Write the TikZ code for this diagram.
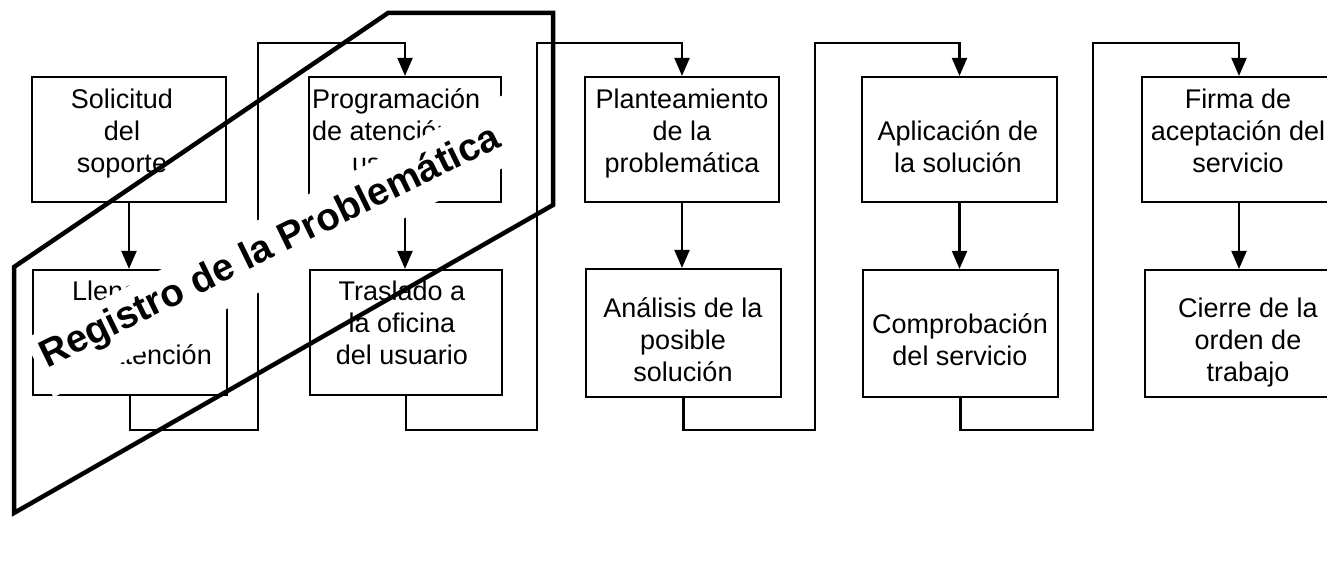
\documentclass[tikz,border=0pt]{standalone}
\usepackage{fontspec}
\setmainfont{Liberation Sans}
\usetikzlibrary{arrows.meta}
\newcommand{\st}{\rule[-6pt]{0pt}{32pt}}
\tikzset{
  stepbox/.style={draw, line width=2.2pt, minimum height=125pt, inner sep=0pt},
  txt/.style={font=\fontsize{27}{32}\selectfont, align=center, inner sep=0pt, anchor=north},
  txtl/.style={font=\fontsize{27}{32}\selectfont, align=left, inner sep=0pt, anchor=north west},
  conn/.style={line width=2.2pt, -{Triangle[length=18pt,width=15pt]}},
  outline/.style={line width=4.5pt},
  band/.style={fill=white},
  regtitle/.style={font=\fontsize{38.5}{40}\selectfont\bfseries, inner sep=0pt, anchor=base, rotate=26},
}
\begin{document}
\begin{tikzpicture}[x=1pt, y=-1pt]
\useasboundingbox (0,0) rectangle (1327,561);
\fill[white] (0,0) rectangle (1327,561);
\clip (0,0) rectangle (1327,561);

% boxes
\node[stepbox, minimum width=194pt] (b1) at (129,139.5) {};
\node[stepbox, minimum width=194pt] (b2) at (130,332.5) {};
\node[stepbox, minimum width=192pt] (b3) at (405,139.5) {};
\node[stepbox, minimum width=192pt] (b4) at (406,332.5) {};
\node[stepbox, minimum width=194pt] (b5) at (682,139.5) {};
\node[stepbox, minimum width=195pt, minimum height=128pt] (b6) at (683.5,333) {};
\node[stepbox, minimum width=195pt] (b7) at (959.5,139.5) {};
\node[stepbox, minimum width=195pt, minimum height=127pt] (b8) at (960.5,333.5) {};
\node[stepbox, minimum width=194pt] (b9) at (1239,139.5) {};
\node[stepbox, minimum width=194pt, minimum height=127pt] (b10) at (1242,333.5) {};

% texts
\node[txt] (t1) at (122,82) {\st Solicitud\\\st del\\\st soporte};
\node[txtl] (t2) at (72,274) {\st Llenado de\\\st \\\st de atención};
\node[txtl] (t3) at (312,82) {\st Programación\\\st de atención\\\st\hspace*{40pt}usuario};
\node[txt] (t4) at (402,274) {\st Traslado a\\\st la oficina\\\st del usuario};
\node[txt] (t5) at (682,82) {\st Planteamiento\\\st de la\\\st problemática};
\node[txt] (t6) at (683,291) {\st Análisis de la\\\st posible\\\st solución};
\node[txt] (t7) at (958,114) {\st Aplicación de\\\st la solución};
\node[txt] (t8) at (960,307) {\st Comprobación\\\st del servicio};
\node[txt] (t9) at (1238,82) {\st Firma de\\\st aceptación del\\\st servicio};
\node[txt] (t10) at (1248,291) {\st Cierre de la\\\st orden de\\\st trabajo};

% connectors
\draw[conn] (b1.south) -- (b1.south |- b2.north);
\draw[conn] (b3.south) -- (b3.south |- b4.north);
\draw[conn] (b5.south) -- (b5.south |- b6.north);
\draw[conn] (b7.south) -- (b7.south |- b8.north);
\draw[conn] (b9.south) -- (b9.south |- b10.north);

\coordinate (d1) at (258,430); \coordinate (u1) at (258,43);
\coordinate (d2) at (537,430); \coordinate (u2) at (537,43);
\coordinate (d3) at (815,430); \coordinate (u3) at (815,43);
\coordinate (d4) at (1093,430); \coordinate (u4) at (1093,43);
\draw[conn] (b2.south) |- (d1) -- (u1) -| (b3.north);
\draw[conn] (b4.south) |- (d2) -- (u2) -| (b5.north);
\draw[conn] (b6.south) |- (d3) -- (u3) -| (b7.north);
\draw[conn] (b8.south) |- (d4) -- (u4) -| (b9.north);

% white band behind the rotated title
\fill[band] (24,339.4) -- (504,94.5) -- (533.5,152.4) -- (53.5,397.3) -- cycle;
\node[regtitle] (reg) at (275,257) {Registro de la Problemática};

% thick outline
\draw[outline] (14,513) -- (14,267) -- (388,13) -- (553,13) -- (553,205) -- cycle;
\end{tikzpicture}
\end{document}
